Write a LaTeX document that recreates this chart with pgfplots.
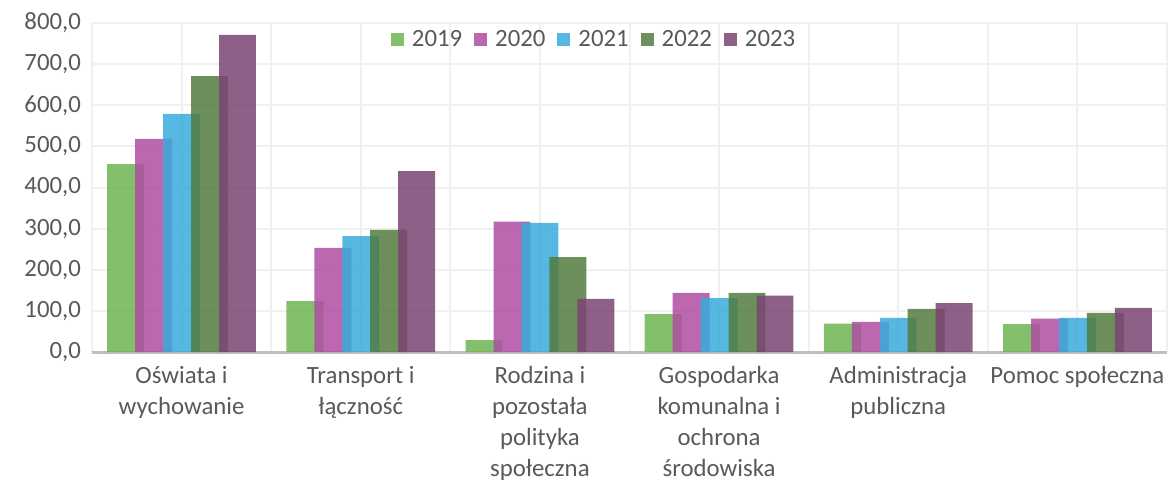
\documentclass[border=0pt]{standalone}
\usepackage{pgfplots}
\pgfplotsset{compat=1.18}
\usepackage{fontspec}
\setmainfont{Carlito}
\definecolor{txt}{RGB}{89,89,89}
\definecolor{gridc}{RGB}{240,240,240}
\definecolor{axc}{RGB}{191,191,191}
\definecolor{cA}{RGB}{110,181,82}
\definecolor{cB}{RGB}{175,77,162}
\definecolor{cC}{RGB}{56,171,219}
\definecolor{cD}{RGB}{82,123,63}
\definecolor{cE}{RGB}{123,68,114}
\begin{document}
\begin{tikzpicture}
\begin{axis}[
  scale only axis, width=537.5bp, height=164.5bp,
  xmin=-0.5, xmax=5.5, ymin=0, ymax=800,
  ytick={0,100,...,800},
  yticklabel style={/pgf/number format/fixed, /pgf/number format/fixed zerofill, /pgf/number format/precision=1, /pgf/number format/use comma, /pgf/number format/1000 sep={}, /pgf/number format/assume math mode=true, /tikz/text=txt, /tikz/font=\fontsize{12.4bp}{14bp}\selectfont, /tikz/xshift=-2bp},
  xtick={0,...,5},
  xticklabels={{Oświata i\\[1.6bp]wychowanie},{Transport i\\[1.6bp]łączność},{Rodzina i\\[1.6bp]pozostała\\[1.6bp]polityka\\[1.6bp]społeczna},{Gospodarka\\[1.6bp]komunalna i\\[1.6bp]ochrona\\[1.6bp]środowiska},{Administracja\\[1.6bp]publiczna},{Pomoc społeczna}},
  xticklabel style={align=center, text=txt, font=\fontsize{12.4bp}{14bp}\selectfont, yshift=-3.5bp},
  minor xtick={-0.5,0.5,...,5.5},
  xmajorgrids, xminorgrids, ymajorgrids,
  grid style={draw=gridc, line width=1bp},
  minor grid style={draw=gridc, line width=1bp},
  major tick length=0pt, minor tick length=0pt,
  axis x line*=bottom, axis y line*=left,
  x axis line style={draw=axc, line width=1.5bp},
  y axis line style={draw=none},
  ybar, bar width=0.206,
  legend style={draw=none, fill=none, at={(0.468,0.948)}, anchor=center, font=\fontsize{12.4bp}{14bp}\selectfont, text=txt, legend columns=-1, /tikz/every odd column/.append style={column sep=2bp}, /tikz/every even column/.append style={column sep=4bp}},
  legend image code/.code={\fill[#1] (0bp,-3bp) rectangle (6.5bp,3.5bp);},
  clip=false,
]
\addplot[fill=cA, draw=none, fill opacity=0.85, bar shift=-0.312] coordinates {(0,457) (1,124) (2,29) (3,92) (4,69) (5,68)};
\addplot[fill=cB, draw=none, fill opacity=0.85, bar shift=-0.156] coordinates {(0,518) (1,253) (2,317) (3,144) (4,73) (5,81)};
\addplot[fill=cC, draw=none, fill opacity=0.85, bar shift=0] coordinates {(0,579) (1,282) (2,314) (3,131) (4,83) (5,83)};
\addplot[fill=cD, draw=none, fill opacity=0.85, bar shift=0.156] coordinates {(0,671) (1,297) (2,231) (3,144) (4,105) (5,95)};
\addplot[fill=cE, draw=none, fill opacity=0.85, bar shift=0.312] coordinates {(0,771) (1,440) (2,129) (3,137) (4,119) (5,107)};
\legend{2019,2020,2021,2022,2023}
\end{axis}
\pgfresetboundingbox
\path[use as bounding box] (-46bp,-66bp) rectangle (538bp,176bp);
\end{tikzpicture}
\end{document}
